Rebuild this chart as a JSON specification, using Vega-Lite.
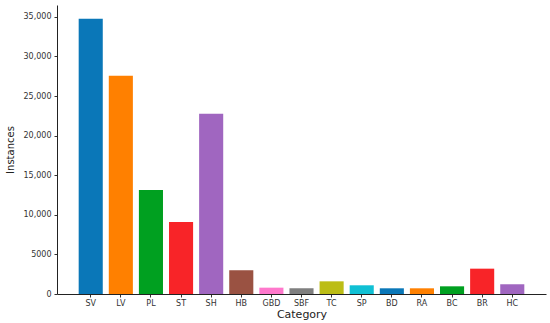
{
  "$schema": "https://vega.github.io/schema/vega-lite/v6.json",
  "autosize": "none",
  "width": 489,
  "height": 289,
  "padding": {"left": 57, "top": 5, "right": 4, "bottom": 29},
  "background": "white",
  "config": {"view": {"stroke": null}, "font": "DejaVu Sans"},
  "data": {"values": [
    {"category": "SV", "instances": 34750, "color": "#0a77b8"},
    {"category": "LV", "instances": 27550, "color": "#ff8000"},
    {"category": "PL", "instances": 13150, "color": "#00a020"},
    {"category": "ST", "instances": 9100, "color": "#f82428"},
    {"category": "SH", "instances": 22750, "color": "#a066c0"},
    {"category": "HB", "instances": 3000, "color": "#9a5242"},
    {"category": "GBD", "instances": 800, "color": "#ff78cc"},
    {"category": "SBF", "instances": 720, "color": "#7f7f7f"},
    {"category": "TC", "instances": 1600, "color": "#bcbd16"},
    {"category": "SP", "instances": 1100, "color": "#10c0d4"},
    {"category": "BD", "instances": 720, "color": "#0a77b8"},
    {"category": "RA", "instances": 720, "color": "#ff8000"},
    {"category": "BC", "instances": 970, "color": "#00a020"},
    {"category": "BR", "instances": 3200, "color": "#f82428"},
    {"category": "HC", "instances": 1230, "color": "#a066c0"}
  ]},
  "mark": {"type": "bar"},
  "encoding": {
    "x": {
      "field": "category", "type": "nominal", "sort": null,
      "scale": {"paddingInner": 0.2, "paddingOuter": 0.72},
      "axis": {
        "title": "Category", "titleFontSize": 11, "titleFontWeight": "normal", "titleColor": "#222",
        "titlePadding": 1,
        "labelAngle": 0, "labelFontSize": 8, "labelColor": "#333", "labelPadding": 2,
        "tickSize": 3, "tickColor": "#333", "domainColor": "#222", "domainWidth": 1
      }
    },
    "y": {
      "field": "instances", "type": "quantitative",
      "scale": {"domain": [0, 36500], "nice": false},
      "axis": {
        "title": "Instances", "titleFontSize": 10, "titleFontWeight": "normal", "titleColor": "#222",
        "titlePadding": 8,
        "values": [0, 5000, 10000, 15000, 20000, 25000, 30000, 35000],
        "labelExpr": "datum.value >= 10000 ? format(datum.value, ',') : format(datum.value, 'd')",
        "labelFontSize": 8, "labelColor": "#333", "labelPadding": 3,
        "tickSize": 3, "tickColor": "#333", "domainColor": "#222", "domainWidth": 1, "grid": false
      }
    },
    "color": {"field": "color", "type": "nominal", "scale": null, "legend": null}
  }
}
